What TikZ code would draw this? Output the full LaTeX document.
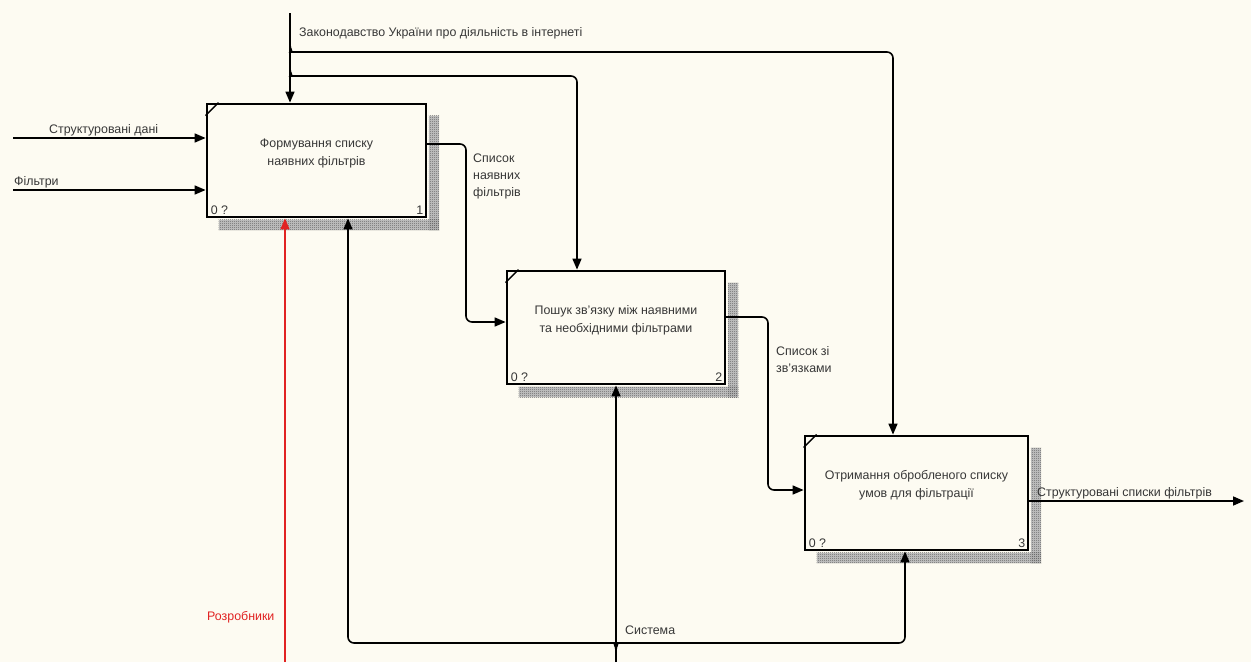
\documentclass[tikz,border=0pt]{standalone}
\usepackage{fontspec}
\setmainfont{Liberation Sans}
\usetikzlibrary{arrows.meta,patterns.meta}

\definecolor{paper}{RGB}{253,251,242}
\definecolor{ink}{RGB}{55,55,55}
\definecolor{mechred}{RGB}{225,35,35}

% fine checkered hatching for the box shadows
\tikzdeclarepattern{
  name=checker,
  type=uncolored,
  bounding box={(0,0) and (2pt,2pt)},
  tile size={(2pt,2pt)},
  code={
    \pgfpathrectangle{\pgfpointorigin}{\pgfpoint{1pt}{1pt}}
    \pgfpathrectangle{\pgfpoint{1pt}{1pt}}{\pgfpoint{1pt}{1pt}}
    \pgfusepath{fill}
  }
}

\tikzset{
  actbox/.style={draw, line width=2.8pt, fill=paper, inner sep=0pt},
  shadebase/.style={fill=black!22},
  shade/.style={pattern=checker, pattern color=black!62},
  boxtxt/.style={text=ink, font=\fontsize{12.4}{18}\selectfont, align=center, inner sep=0pt},
  lbl/.style={text=ink, font=\fontsize{12.4}{17}\selectfont, align=left, inner sep=0pt},
  corner/.style={text=ink, font=\fontsize{12.4}{12}\selectfont, inner sep=0pt},
  arr/.style={line width=1.6pt, -{Triangle[length=11pt,width=9pt]}},
}

\begin{document}
\begin{tikzpicture}[x=1pt, y=-1pt]
\useasboundingbox[fill=paper] (0,0) rectangle (1251,662);

% ---- activity boxes ----
\node[actbox, minimum width=219pt, minimum height=113pt] (b1) at (316.5,160.5) {};
\node[actbox, minimum width=218pt, minimum height=113pt] (b2) at (616,327.5) {};
\node[actbox, minimum width=223pt, minimum height=114pt] (b3) at (916.5,493) {};

% shadows, corner ticks and numbering
\foreach \b/\n in {b1/1, b2/2, b3/3} {
  \fill[shadebase] ([xshift=1.4pt,yshift=-13pt]\b.north east) rectangle ([xshift=12pt,yshift=-12pt]\b.south east);
  \fill[shadebase] ([xshift=13pt,yshift=-1.4pt]\b.south west) rectangle ([xshift=12pt,yshift=-12pt]\b.south east);
  \fill[shade] ([xshift=1.4pt,yshift=-13pt]\b.north east) rectangle ([xshift=12pt,yshift=-12pt]\b.south east);
  \fill[shade] ([xshift=13pt,yshift=-1.4pt]\b.south west) rectangle ([xshift=12pt,yshift=-12pt]\b.south east);
  \draw[line width=1.4pt] ([yshift=-13pt]\b.north west) -- ([xshift=13pt]\b.north west);
  \node[corner, anchor=south west] at ([xshift=5pt,yshift=4pt]\b.south west) {0 ?};
  \node[corner, anchor=south east] at ([xshift=-4pt,yshift=4pt]\b.south east) {\n};
}

\node[boxtxt] (t1) at (316.5,153) {Формування списку\\ наявних фільтрів};
\node[boxtxt] (t2) at (616,320) {Пошук зв'язку між наявними\\ та необхідними фільтрами};
\node[boxtxt] (t3) at (916.5,485.5) {Отримання обробленого списку\\ умов для фільтрації};

% ---- control: legislation ----
\coordinate (ctop) at (290,13);
\coordinate (j1) at (290,45);
\coordinate (j2) at (290,69);
\coordinate (h1) at (297,52);
\coordinate (h2) at (297,76);
\coordinate (c3) at (893,52);
\coordinate (c2) at (577,76);
\draw[arr] (ctop) -- (ctop |- b1.north);
\draw[arr, rounded corners=6pt] (j1) to[out=-90,in=180] (h1) -- (c3) -- (c3 |- b3.north);
\draw[arr, rounded corners=6pt] (j2) to[out=-90,in=180] (h2) -- (c2) -- (c2 |- b2.north);
\node[lbl, anchor=west] (lctl) at (299,33) {Законодавство України про діяльність в інтернеті};

% ---- inputs ----
\coordinate (in1) at (13,138);
\coordinate (in2) at (13,190);
\draw[arr] (in1) -- (in1 -| b1.west);
\draw[arr] (in2) -- (in2 -| b1.west);
\node[lbl, anchor=west] (lin1) at (49,130) {Структуровані дані};
\node[lbl, anchor=west] (lin2) at (14,182) {Фільтри};

% ---- outputs ----
\coordinate (o1) at (426,144);
\coordinate (k1) at (466,144);
\coordinate (k1b) at (466,322);
\draw[arr, rounded corners=6pt] (o1) -- (k1) -- (k1b) -- (k1b -| b2.west);
\node[lbl, anchor=west] (lo1) at (473,176) {Список\\наявних\\фільтрів};

\coordinate (o2) at (725,317);
\coordinate (k2) at (768,317);
\coordinate (k2b) at (768,490);
\draw[arr, rounded corners=6pt] (o2) -- (k2) -- (k2b) -- (k2b -| b3.west);
\node[lbl, anchor=west] (lo2) at (776,360) {Список зі\\зв'язками};

\coordinate (o3) at (1028,501);
\coordinate (oend) at (1244,501);
\draw[arr] (o3) -- (oend);
\node[lbl, anchor=west] (lo3) at (1037,493) {Структуровані списки фільтрів};

% ---- mechanisms ----
\coordinate (mred) at (285,662);
\draw[arr, draw=mechred, fill=mechred] (mred) -- (mred |- b1.south);
\node[lbl, text=mechred, anchor=west] (lred) at (207,617) {Розробники};

\coordinate (msys) at (616,662);
\coordinate (js) at (616,650);
\coordinate (hl) at (609,643);
\coordinate (hr) at (623,643);
\coordinate (ml) at (348,643);
\coordinate (mr) at (905,643);
\draw[arr] (msys) -- (msys |- b2.south);
\draw[arr, rounded corners=6pt] (js) to[out=90,in=0] (hl) -- (ml) -- (ml |- b1.south);
\draw[arr, rounded corners=6pt] (js) to[out=90,in=180] (hr) -- (mr) -- (mr |- b3.south);
\node[lbl, anchor=west] (lsys) at (625,630) {Система};
\end{tikzpicture}
\end{document}
